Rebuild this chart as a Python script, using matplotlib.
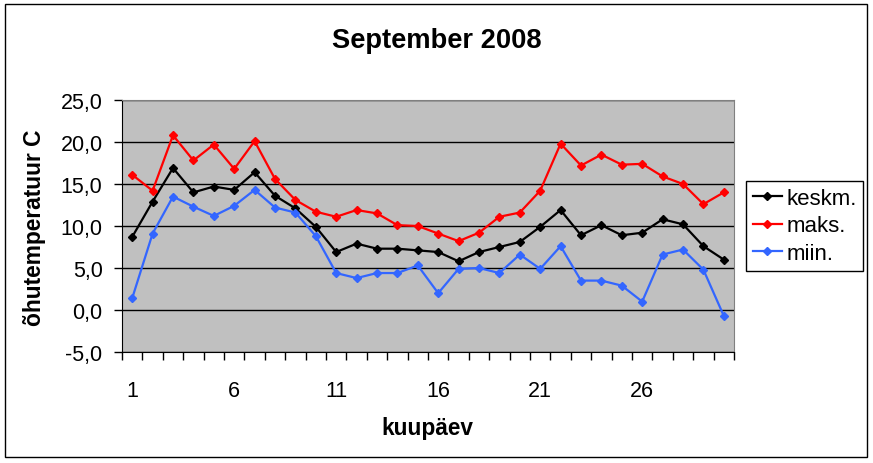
##### September 2008 air temperature chart #####
import numpy as np
import matplotlib
matplotlib.use('Agg')
import matplotlib.pyplot as plt
from matplotlib.ticker import FuncFormatter
from matplotlib.patches import Rectangle

# Data (day of month, degrees C)
days = list(range(1, 31))
keskm = [8.7, 12.9, 16.9, 14.0, 14.7, 14.3, 16.4, 13.6, 12.1, 9.9,
         6.9, 7.9, 7.3, 7.3, 7.1, 6.9, 5.8, 6.9, 7.5, 8.1,
         9.9, 11.9, 8.9, 10.1, 8.9, 9.2, 10.8, 10.2, 7.6, 6.0]
maks = [16.1, 14.2, 20.8, 17.8, 19.7, 16.8, 20.1, 15.6, 13.1, 11.7,
        11.1, 11.9, 11.5, 10.1, 10.0, 9.1, 8.2, 9.2, 11.1, 11.6,
        14.2, 19.8, 17.2, 18.5, 17.3, 17.4, 15.9, 15.0, 12.6, 14.0]
miin = [1.4, 9.1, 13.5, 12.3, 11.2, 12.4, 14.3, 12.2, 11.6, 8.8,
        4.4, 3.8, 4.4, 4.4, 5.3, 2.0, 4.9, 5.0, 4.4, 6.6,
        4.9, 7.6, 3.5, 3.5, 2.9, 1.0, 6.6, 7.2, 4.8, -0.7]
xtick_labels = ['1', '6', '11', '16', '21', '26']

plt.rcParams['font.family'] = ['Liberation Sans', 'DejaVu Sans']

W, H = 873, 464
fig = plt.figure(figsize=(W / 100, H / 100), dpi=100)

# outer chart border
fig.patches.append(Rectangle((5 / W, 1 - 458 / H), 862 / W, 453 / H, transform=fig.transFigure,
                             fill=False, edgecolor='black', linewidth=1))

l, r, t, b = 122, 734, 101, 353                                    # plot area in pixels
ax = fig.add_axes([l / W, 1 - b / H, (r - l) / W, (b - t) / H])
ax.set_facecolor('#C0C0C0')

ax.plot(days, keskm, color='black', lw=1.6, marker='D', ms=4, label='keskm.', zorder=3)
ax.plot(days, maks, color='#FF0000', lw=1.6, marker='D', ms=4, label='maks.', zorder=3)
ax.plot(days, miin, color='#3366FF', lw=1.6, marker='D', ms=4, label='miin.', zorder=3)

ax.set_xlim(0.5, 30.5)
ax.set_ylim(-5, 25)
ax.set_yticks(np.arange(-5, 26, 5))
ax.yaxis.set_major_formatter(FuncFormatter(lambda v, p: ('%.1f' % v).replace('.', ',')))
ax.grid(axis='y', color='black', lw=1)
ax.set_axisbelow(True)

ax.set_xticks([1, 6, 11, 16, 21, 26])
ax.set_xticklabels(xtick_labels)
ax.set_xticks(np.arange(0.5, 31, 1), minor=True)
ax.tick_params(axis='x', which='major', length=0, pad=20, labelsize=15.5)
ax.tick_params(axis='x', which='minor', length=6, width=1, direction='out')
ax.tick_params(axis='y', length=6, width=1, pad=8, labelsize=15.5)

ax.spines['top'].set_color('#808080')
ax.spines['right'].set_color('#808080')

fig.text(437 / W, 1 - 41 / H, 'September 2008', ha='center', va='center', fontsize=19.6, fontweight='bold')
fig.text(35 / W, 1 - 228 / H, 'õhutemperatuur C', ha='center', va='center', rotation=90,
         fontsize=16.4, fontweight='bold')
fig.text(427 / W, 1 - 429 / H, 'kuupäev', ha='center', va='center', fontsize=16.3, fontweight='bold')

leg = ax.legend(loc='center left', bbox_to_anchor=(746 / W, 1 - 227 / H), bbox_transform=fig.transFigure,
                fontsize=16, frameon=True, fancybox=False, edgecolor='black', framealpha=1,
                handlelength=1.3, handletextpad=0.22, labelspacing=0.3, borderpad=0.3, borderaxespad=0)
leg.get_frame().set_linewidth(1)

plt.savefig('out.png', dpi=100)
